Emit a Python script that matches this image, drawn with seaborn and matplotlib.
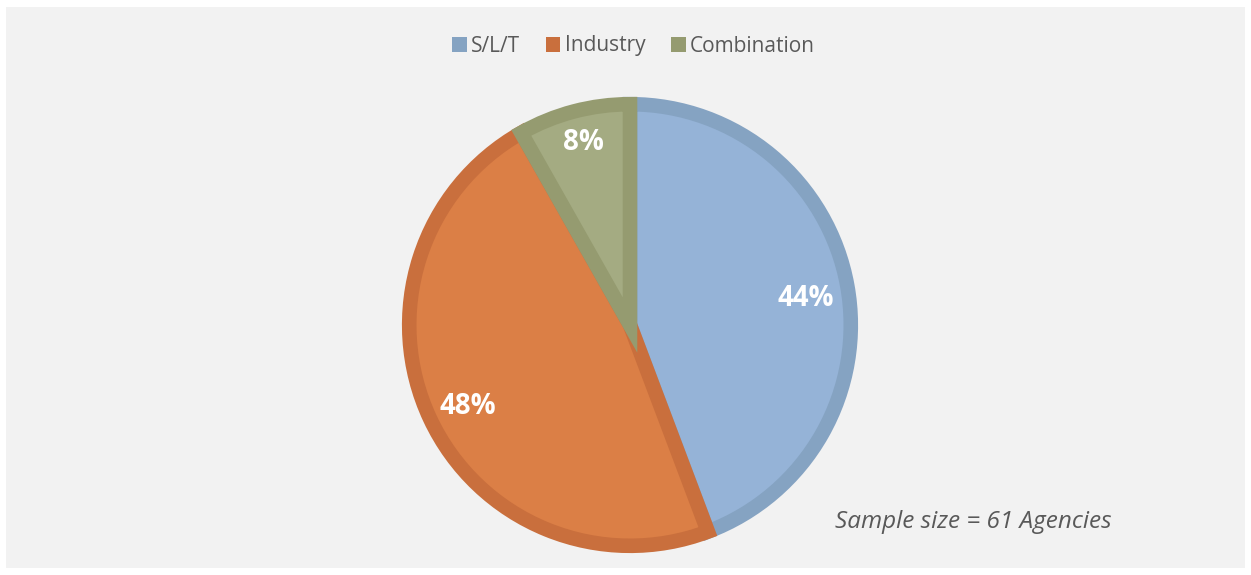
import matplotlib
matplotlib.use("Agg")
import matplotlib.pyplot as plt
from matplotlib.patches import Rectangle
import seaborn as sns

# data (61 agencies)
categories = ["S/L/T", "Industry", "Combination"]
counts = [27, 29, 5]
pct_labels = ["44%", "48%", "8%"]
sample_note = "Sample size = 61 Agencies"

# colours: fill and the darker inner rim
fill_colors = ["#95B3D7", "#DB7F46", "#A4AB82"]
edge_colors = ["#85A3C2", "#C96F3D", "#959B70"]

sns.set_theme(style="white")
plt.rcParams["font.family"] = ["Open Sans", "DejaVu Sans"]

fig = plt.figure(figsize=(12.51, 5.75), dpi=100)
fig.patch.set_facecolor("white")

# grey chart area with a thin white margin
fig.patches.append(Rectangle((6 / 1251, 7 / 575), 1239 / 1251, 561 / 575,
                             transform=fig.transFigure, facecolor="#F2F2F2",
                             edgecolor="none", zorder=-10))

# pie axes: centre (630, 325) px
r = 223
ax = fig.add_axes([(630 - r) / 1251, (250 - r) / 575, 2 * r / 1251, 2 * r / 575])
ax.set_zorder(5)
ax.set_facecolor("none")

wedges, texts, autotexts = ax.pie(
    counts,
    colors=fill_colors,
    startangle=90,
    counterclock=False,
    radius=1,
    autopct=lambda p: "",
    pctdistance=0.81,
    wedgeprops={"linewidth": 10.5},
)
for w, ec in zip(wedges, edge_colors):
    w.set_edgecolor(ec)
    w.set_clip_path(w)

for t, lab in zip(autotexts, pct_labels):
    t.set_text(lab)
    t.set_color("white")
    t.set_fontsize(20)
    t.set_fontweight("bold")
    x, y = t.get_position()
    t.set_position((x, y - 0.025))
# the small slice label sits higher up in its wedge
x8, y8 = autotexts[2].get_position()
autotexts[2].set_position((x8 * 1.03, y8 + 0.07))

ax.set_xlim(-1.01, 1.01)
ax.set_ylim(-1.01, 1.01)
ax.set_aspect("equal")
ax.axis("off")

# legend with square markers
handles = [Rectangle((0, 0), 1, 1, facecolor=c, edgecolor="none") for c in edge_colors]
leg = fig.legend(handles, categories, loc="center", bbox_to_anchor=(0.5 + 8 / 1251, 1 - 46 / 575),
                 ncol=3, frameon=False, fontsize=15, handlelength=0.7, handleheight=0.7,
                 handletextpad=0.2, columnspacing=1.25)
for t in leg.get_texts():
    t.set_color("#595959")

fig.text(973 / 1251, 1 - 522 / 575, sample_note, ha="center", va="center",
         fontsize=17.5, style="italic", color="#595959")

fig.savefig("out.png", dpi=100, facecolor=fig.get_facecolor())
